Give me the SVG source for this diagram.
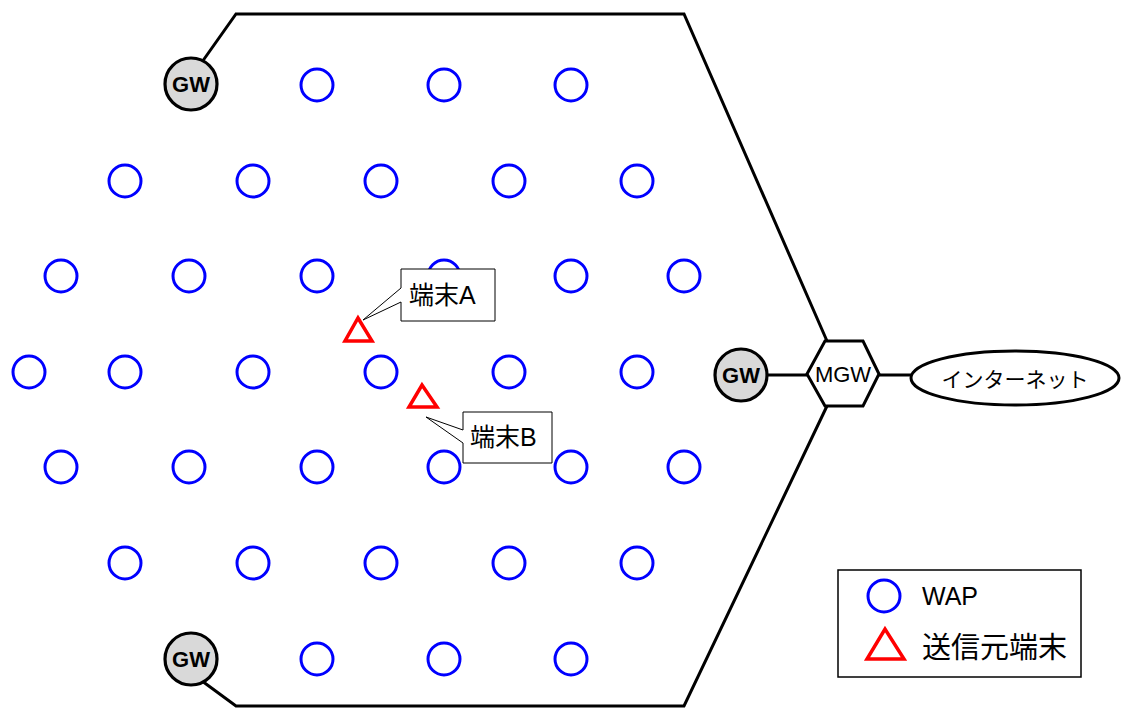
<svg xmlns="http://www.w3.org/2000/svg" width="1121" height="708" viewBox="0 0 1121 708">
  <style>
    .wap { fill: none; stroke: #0000ff; stroke-width: 3; }
    .src { fill: none; stroke: #ff0000; stroke-width: 3.5; stroke-linejoin: miter; }
    .gw { fill: #d9d9d9; stroke: #000; stroke-width: 3.2; }
    .gwt { font-family: "Liberation Sans", Arial, sans-serif; font-weight: bold; font-size: 22px; text-anchor: middle; fill: #000; }
    .line { fill: none; stroke: #000; stroke-width: 3; }
    .lbl { font-family: "Liberation Sans", "Noto Sans CJK JP", sans-serif; fill: #000; }
    .box { fill: #fff; stroke: #000; stroke-width: 1; }
  </style>
  <rect width="1121" height="708" fill="#fff"/>

  <!-- service area outline and links -->
  <g id="connectors">
    <polyline class="line" points="202,62 236,14 684,14 827,341"/>
    <polyline class="line" points="202,681 236,706 684,706 827,406"/>
    <line class="line" x1="767" y1="375" x2="807" y2="375"/>
    <line class="line" x1="879" y1="375" x2="912" y2="375"/>
  </g>

  <!-- access points -->
  <g id="waps">
    <circle class="wap" cx="317" cy="85" r="16"/>
    <circle class="wap" cx="444" cy="85" r="16"/>
    <circle class="wap" cx="571" cy="85" r="16"/>

    <circle class="wap" cx="125" cy="181" r="16"/>
    <circle class="wap" cx="253" cy="181" r="16"/>
    <circle class="wap" cx="381" cy="181" r="16"/>
    <circle class="wap" cx="509" cy="181" r="16"/>
    <circle class="wap" cx="637" cy="181" r="16"/>

    <circle class="wap" cx="61" cy="276" r="16"/>
    <circle class="wap" cx="189" cy="276" r="16"/>
    <circle class="wap" cx="317" cy="276" r="16"/>
    <circle class="wap" cx="444" cy="276" r="16"/>
    <circle class="wap" cx="571" cy="276" r="16"/>
    <circle class="wap" cx="684" cy="276" r="16"/>

    <circle class="wap" cx="29" cy="372" r="16"/>
    <circle class="wap" cx="125" cy="372" r="16"/>
    <circle class="wap" cx="253" cy="372" r="16"/>
    <circle class="wap" cx="381" cy="372" r="16"/>
    <circle class="wap" cx="509" cy="372" r="16"/>
    <circle class="wap" cx="637" cy="372" r="16"/>

    <circle class="wap" cx="61" cy="467" r="16"/>
    <circle class="wap" cx="189" cy="467" r="16"/>
    <circle class="wap" cx="317" cy="467" r="16"/>
    <circle class="wap" cx="444" cy="467" r="16"/>
    <circle class="wap" cx="571" cy="467" r="16"/>
    <circle class="wap" cx="684" cy="467" r="16"/>

    <circle class="wap" cx="125" cy="563" r="16"/>
    <circle class="wap" cx="253" cy="563" r="16"/>
    <circle class="wap" cx="381" cy="563" r="16"/>
    <circle class="wap" cx="509" cy="563" r="16"/>
    <circle class="wap" cx="637" cy="563" r="16"/>

    <circle class="wap" cx="317" cy="659" r="16"/>
    <circle class="wap" cx="444" cy="659" r="16"/>
    <circle class="wap" cx="571" cy="659" r="16"/>
  </g>

  <!-- gateways -->
  <g id="gw-top">
    <circle class="gw" cx="191" cy="84" r="26"/>
    <text class="gwt" x="191" y="92">GW</text>
  </g>
  <g id="gw-bottom">
    <circle class="gw" cx="191" cy="659" r="26"/>
    <text class="gwt" x="191" y="667">GW</text>
  </g>
  <g id="gw-right">
    <circle class="gw" cx="741" cy="375" r="26"/>
    <text class="gwt" x="741" y="383">GW</text>
  </g>

  <g id="mgw">
    <polygon class="line" fill="#fff" points="807,374 825,341 863,341 879,374 863,406 825,406"/>
    <text class="lbl" x="843" y="382" text-anchor="middle" style="font-size:22px">MGW</text>
  </g>

  <g id="internet">
    <ellipse class="line" fill="#fff" cx="1015" cy="378" rx="104" ry="27"/>
    <text class="lbl" x="1015" y="387" text-anchor="middle" style="font-size:21px">インターネット</text>
  </g>

  <!-- terminals -->
  <g id="terminal-a">
    <polygon class="src" points="345,341 372,341 358,318"/>
    <path class="box" d="M401,269 H495 V321 H401 V302 L363,320 L401,288 Z"/>
    <text class="lbl" x="409" y="304" style="font-size:25px">端末A</text>
  </g>
  <g id="terminal-b">
    <polygon class="src" points="409,407 437,407 422,385"/>
    <path class="box" d="M463,412 H552 V463 H463 V443 L426,417 L463,430 Z"/>
    <text class="lbl" x="470" y="446" style="font-size:25px">端末B</text>
  </g>

  <!-- legend -->
  <g id="legend">
    <rect x="838" y="570" width="243" height="107" fill="#fff" stroke="#000" stroke-width="1.5"/>
    <circle class="wap" cx="884" cy="596" r="16"/>
    <text class="lbl" x="922" y="605" style="font-size:25px">WAP</text>
    <polygon class="src" points="867,659 904,659 885,629"/>
    <text class="lbl" x="922" y="658" style="font-size:29px">送信元端末</text>
  </g>
</svg>
